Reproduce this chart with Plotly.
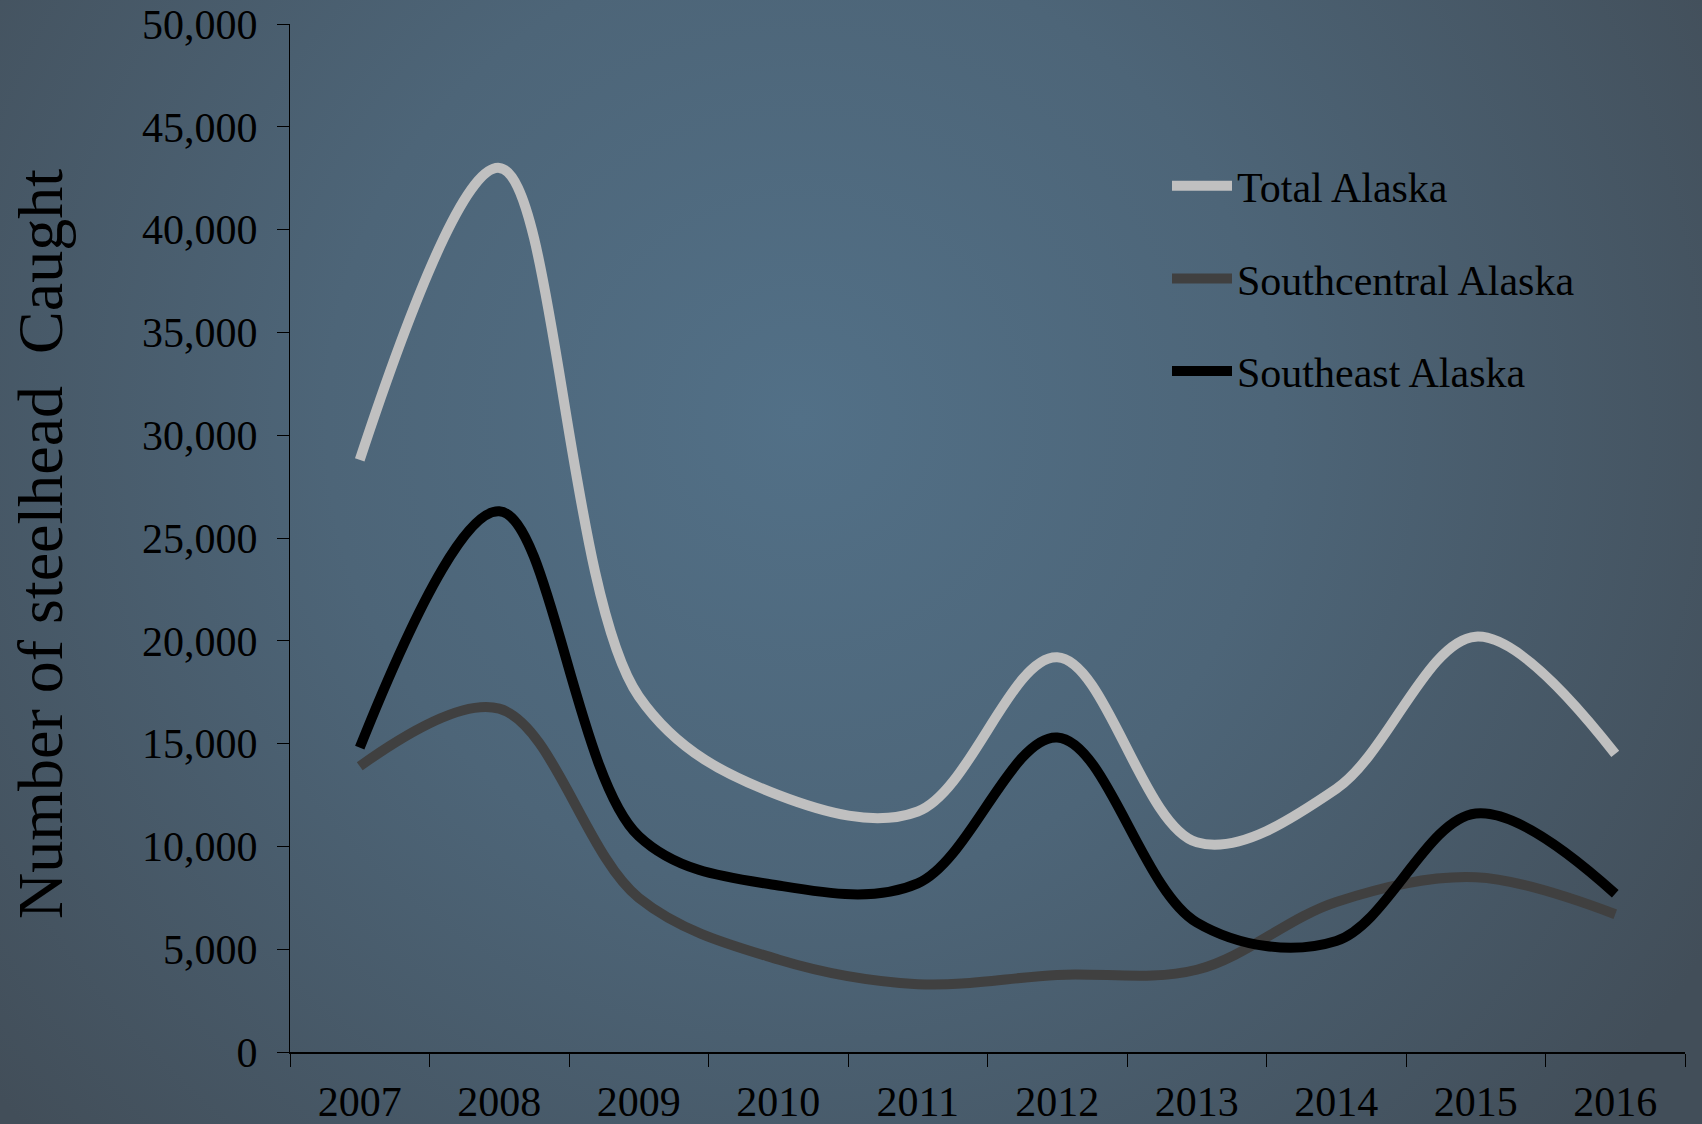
import base64
import plotly.graph_objects as go

years = ["2007", "2008", "2009", "2010", "2011", "2012", "2013", "2014", "2015", "2016"]
total_alaska = [28800, 43000, 17300, 12500, 11700, 19200, 10200, 12800, 20200, 14500]
southcentral_alaska = [13900, 16700, 7500, 4500, 3300, 3750, 4000, 7300, 8500, 6700]
southeast_alaska = [14800, 26300, 10500, 8100, 8200, 15300, 6300, 5400, 11600, 7700]

series_names = ["Total Alaska", "Southcentral Alaska", "Southeast Alaska"]
series_values = [total_alaska, southcentral_alaska, southeast_alaska]
series_colors = ["#c0c0c0", "#404040", "#000000"]

W, H = 1702, 1124
ML, MR, MT, MB = 290, 17, 24, 72
PW, PH = W - ML - MR, H - MT - MB

FONT = "Liberation Serif, Times New Roman, serif"

svg = f'''<svg xmlns="http://www.w3.org/2000/svg" width="{W}" height="{H}" viewBox="0 0 {W} {H}" preserveAspectRatio="none">
<defs><radialGradient id="g" gradientUnits="userSpaceOnUse" cx="800" cy="420" r="1050">
<stop offset="0" stop-color="#527087"/><stop offset="0.45" stop-color="#4d6578"/><stop offset="1" stop-color="#424e59"/>
</radialGradient></defs><rect x="0" y="0" width="{W}" height="{H}" fill="url(#g)"/></svg>'''
bg_src = "data:image/svg+xml;base64," + base64.b64encode(svg.encode()).decode()

fig = go.Figure()
for name, vals, col in zip(series_names, series_values, series_colors):
    fig.add_trace(go.Scatter(
        x=years, y=vals, name=name, mode="lines", legendgroup=name,
        line=dict(color=col, width=10, shape="spline", smoothing=1.0),
    ))

fig.update_layout(
    width=W, height=H, autosize=False,
    margin=dict(l=ML, r=MR, t=MT, b=MB, pad=0, autoexpand=False),
    paper_bgcolor="#4a5a68",
    plot_bgcolor="rgba(0,0,0,0)",
    font=dict(family=FONT, size=42, color="#000000"),
    showlegend=True,
    legend=dict(
        x=(1167 - ML) / PW, y=(H - MB - 152) / PH, xanchor="left", yanchor="top",
        bgcolor="rgba(0,0,0,0)", borderwidth=0,
        font=dict(family=FONT, size=42, color="#000000"),
        tracegroupgap=35, itemwidth=60,
    ),
    images=[dict(
        source=bg_src, xref="paper", yref="paper",
        x=-ML / PW, y=1 + MT / PH, sizex=W / PW, sizey=H / PH,
        xanchor="left", yanchor="top", sizing="stretch", layer="below",
    )],
    annotations=[dict(
        text="Number of steelhead\u00a0 Caught", textangle=-90,
        xref="paper", yref="paper", x=(40 - ML) / PW, y=(H - MB - 544) / PH,
        xanchor="center", yanchor="middle", showarrow=False,
        font=dict(family=FONT, size=64, color="#000000"),
    )],
)

fig.update_xaxes(
    type="category", range=[-0.5, 9.5], tickson="boundaries", ticks="outside", ticklen=13,
    tickwidth=1, tickcolor="#000000", showline=True, linecolor="#000000",
    linewidth=1.5, showgrid=False, zeroline=False, ticklabelstandoff=12,
    automargin=False,
    tickfont=dict(family=FONT, size=42, color="#000000"),
)
fig.update_yaxes(
    range=[0, 50000], dtick=5000, tick0=0, tickformat=",d", ticks="outside",
    ticklen=12, tickwidth=1, tickcolor="#000000", showline=True,
    linecolor="#000000", linewidth=1, showgrid=False, zeroline=False,
    ticklabelstandoff=11, automargin=False,
    tickfont=dict(family=FONT, size=42, color="#000000"),
)

fig.write_html(
    "out.html",
    config={"displayModeBar": False},
    post_script="document.body.style.margin='0';document.body.style.overflow='hidden';",
)
